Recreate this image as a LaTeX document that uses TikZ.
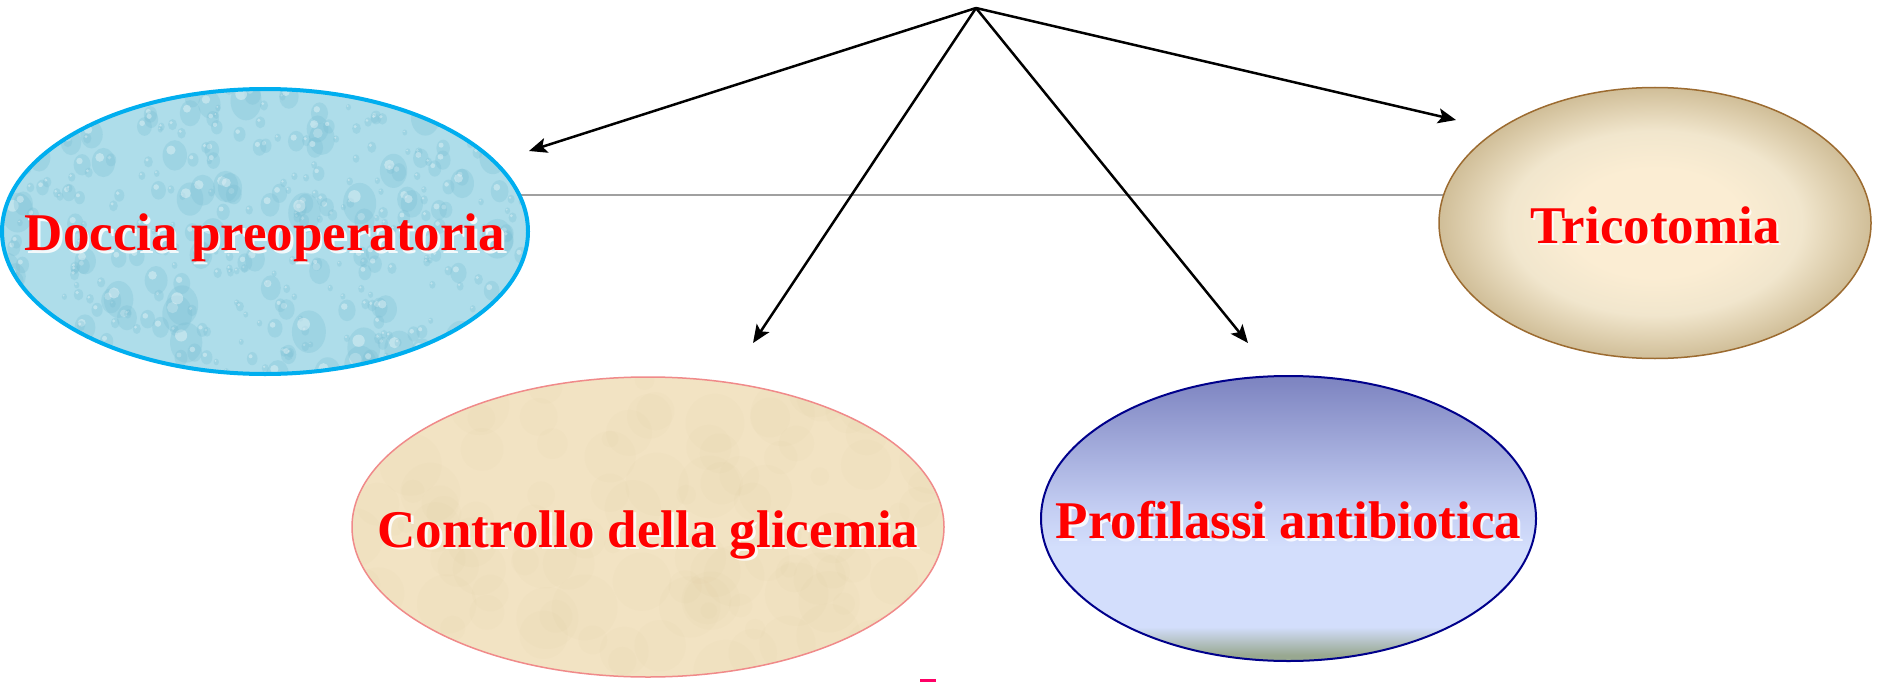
\documentclass[tikz,border=0pt]{standalone}
\usepackage{fontspec}
\setmainfont{Liberation Serif}
\usetikzlibrary{shapes.geometric,arrows.meta}
\definecolor{dborder}{HTML}{00AEEF}
\definecolor{dfill}{HTML}{AEDDEA}
\definecolor{ddrop}{HTML}{78BED3}
\definecolor{tborder}{HTML}{9C6B30}
\definecolor{tinner}{HTML}{FBEDD3}
\definecolor{tmid}{HTML}{F1E6CD}
\definecolor{touter}{HTML}{D0BE98}
\definecolor{cborder}{HTML}{F08A8A}
\definecolor{cfill}{HTML}{F2E3C3}
\definecolor{cblob}{HTML}{D9C394}
\definecolor{pborder}{HTML}{00008B}
\definecolor{ptop}{HTML}{7F86C2}
\definecolor{plight}{HTML}{D3DEFC}
\definecolor{pmid}{HTML}{C3CDF2}
\definecolor{pbot}{HTML}{98A890}
\definecolor{greyl}{HTML}{A0A0A0}
\definecolor{txtred}{HTML}{FF0000}
\definecolor{markcol}{HTML}{FF0066}
% bbox spans 25bp..75bp of the shading
\pgfdeclareverticalshading{profshade}{100bp}{color(0bp)=(pbot); color(26bp)=(pbot); color(31bp)=(plight); color(45bp)=(plight); color(52bp)=(pmid); color(74bp)=(ptop); color(100bp)=(ptop)}
\pgfdeclareradialshading{tricoshade}{\pgfpoint{0bp}{0bp}}{color(0bp)=(tinner); color(10bp)=(tinner); color(17bp)=(tmid); color(25bp)=(touter); color(50bp)=(touter)}
\begin{document}
\begin{tikzpicture}[x=1pt,y=-1pt,
  ell/.style={ellipse, inner sep=0pt},
  lbl/.style={font=\fontsize{53}{60}\selectfont\bfseries, text=txtred, inner sep=0pt, anchor=base},
  shd/.style={font=\fontsize{53}{60}\selectfont\bfseries, text=white, text opacity=0.85, inner sep=0pt, anchor=base},
  arr/.style={line width=2.5pt, -{Stealth[length=18pt,width=15pt,inset=4pt]}},
  gline/.style={greyl, line width=1.5pt}]
\useasboundingbox (0,0) rectangle (1878,682);
\fill[white] (0,0) rectangle (1878,682);

% grey connecting line (behind the ellipses)
\coordinate (gl1) at (300,195);
\coordinate (gl2) at (1600,195);
\draw[gline] (gl1) -- (gl2);

% Doccia preoperatoria
\pgfmathsetseed{11}
\node[ell, fill=dfill, draw=dborder, line width=4pt, minimum width=526pt, minimum height=285pt,
  path picture={
    \foreach \i in {1,...,380}{
      \pgfmathsetmacro\dx{rand*265}
      \pgfmathsetmacro\dy{rand*145}
      \pgfmathsetmacro\rr{3+19*rnd*rnd}
      \fill[ddrop, opacity=0.28] ([xshift=\dx pt, yshift=\dy pt]path picture bounding box.center) ellipse [x radius=0.8*\rr pt, y radius=\rr pt];
      \fill[white, opacity=0.35] ([xshift=\dx pt-0.25*\rr pt, yshift=\dy pt+0.35*\rr pt]path picture bounding box.center) circle [radius=0.3*\rr pt];
    }
  }] (doccia) at (265,231.5) {};

% Tricotomia
\node[ell, shading=tricoshade, draw=tborder, line width=1.5pt,
  minimum width=432pt, minimum height=271pt] (trico) at (1655,223) {};

% Controllo della glicemia
\pgfmathsetseed{5}
\node[ell, fill=cfill, draw=cborder, line width=1.5pt, minimum width=592pt, minimum height=300pt,
  path picture={
    \foreach \i in {1,...,120}{
      \pgfmathsetmacro\dx{rand*300}
      \pgfmathsetmacro\dy{rand*150}
      \pgfmathsetmacro\rr{8+25*rnd}
      \fill[cblob, opacity=0.06] ([xshift=\dx pt, yshift=\dy pt]path picture bounding box.center) circle [radius=\rr pt];
    }
  }] (contr) at (648,527) {};

% Profilassi antibiotica
\node[ell, shading=profshade, draw=pborder, line width=2pt,
  minimum width=495pt, minimum height=285pt] (prof) at (1288.5,518.5) {};

% labels (with light shadow)
\node[shd] (doccia-s) at ([xshift=2.5pt,yshift=-21.5pt]doccia.center) {Doccia preoperatoria};
\node[lbl] (doccia-t) at ([yshift=-19pt]doccia.center) {Doccia preoperatoria};
\node[shd] (trico-s) at ([xshift=2.5pt,yshift=-22.5pt]trico.center) {Tricotomia};
\node[lbl] (trico-t) at ([yshift=-20pt]trico.center) {Tricotomia};
\node[shd] (contr-s) at ([xshift=2.5pt,yshift=-22.5pt]contr.center) {Controllo della glicemia};
\node[lbl] (contr-t) at ([yshift=-20pt]contr.center) {Controllo della glicemia};
\node[shd] (prof-s) at ([xshift=2.5pt,yshift=-22.5pt]prof.center) {Profilassi antibiotica};
\node[lbl] (prof-t) at ([yshift=-20pt]prof.center) {Profilassi antibiotica};

% arrows
\coordinate (apex) at (976,8);
\coordinate (tD) at (529,151);
\coordinate (tC) at (753,343);
\coordinate (tP) at (1248,343);
\coordinate (tT) at (1456,120);
\draw[arr] (apex) -- (tD);
\draw[arr] (apex) -- (tC);
\draw[arr] (apex) -- (tP);
\draw[arr] (apex) -- (tT);

% small mark at bottom
\fill[markcol] (920,678.5) rectangle (936,682);
\end{tikzpicture}
\end{document}
